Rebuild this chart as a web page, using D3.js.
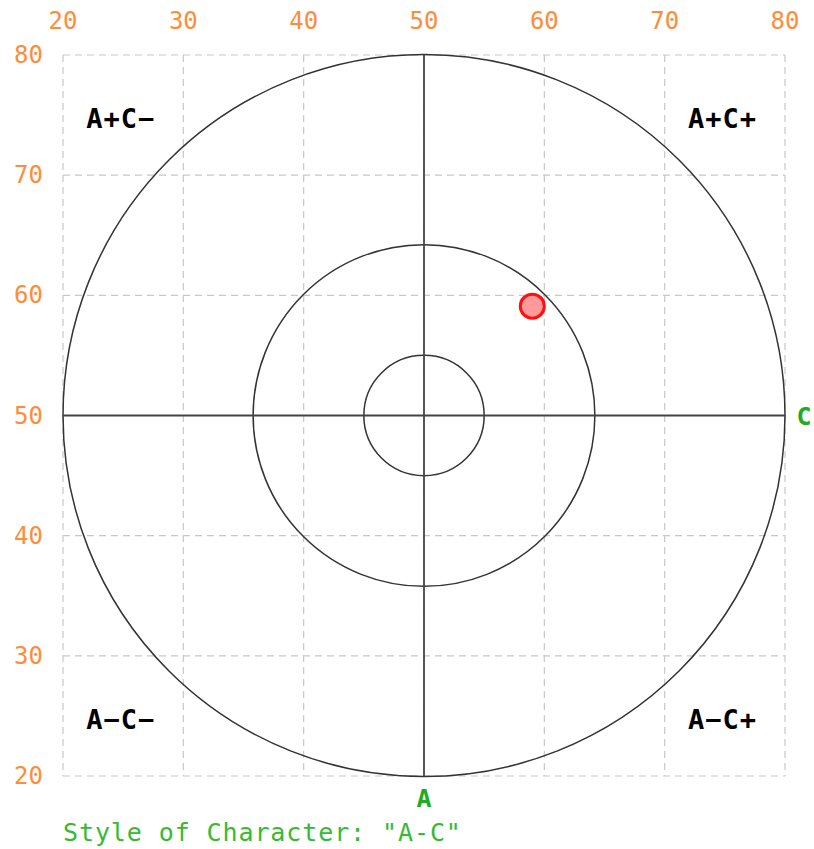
<!DOCTYPE html>
<html>
<head>
<meta charset="utf-8">
<script src="https://cdn.jsdelivr.net/npm/d3@7"></script>
<style>
  html, body { margin: 0; padding: 0; background: #fff; }
  svg { display: block; }
  .tick-lab { font-family: "DejaVu Sans Mono", monospace; font-size: 24px; fill: #ff8c3a; }
  .quad { font-family: "DejaVu Sans Mono", monospace; font-size: 27px; font-weight: bold; fill: #000; letter-spacing: 1px; }
  .axis-name { font-family: "DejaVu Sans Mono", monospace; font-size: 25px; font-weight: bold; fill: #22aa22; }
  .caption { font-family: "DejaVu Sans Mono", monospace; font-size: 25px; fill: #33bb33; letter-spacing: 0.9px; }
</style>
</head>
<body>
<div id="chart"></div>
<script>
// Character-style target chart: C on x, A on y, both 20..80, centred on 50.
const xTicks = [20, 30, 40, 50, 60, 70, 80];
const yTicks = [20, 30, 40, 50, 60, 70, 80];
const ringRadii = [5, 14.2, 30];
const points = [{ c: 59, a: 59.1 }];
const quadrants = [
  { label: 'A+C\u2212', c: 24.8, a: 73.9 },
  { label: 'A+C+', c: 74.8, a: 73.9 },
  { label: 'A\u2212C\u2212', c: 24.8, a: 23.9 },
  { label: 'A\u2212C+', c: 74.8, a: 23.9 },
];
const caption = 'Style of Character: "A-C"';

const width = 814, height = 849;
const m = { top: 55, right: 29, bottom: 73, left: 63 };

const svg = d3.select('#chart').append('svg')
  .attr('width', width).attr('height', height);

const x = d3.scaleLinear().domain([20, 80]).range([m.left, width - m.right]);
const y = d3.scaleLinear().domain([20, 80]).range([height - m.bottom, m.top]);
const px = x(1) - x(0);

// dashed grid
const grid = svg.append('g').attr('stroke', '#c8c8c8').attr('stroke-width', 1.2)
  .attr('stroke-dasharray', '7 5');
grid.selectAll('line.v').data(xTicks).join('line')
  .attr('x1', d => x(d)).attr('x2', d => x(d))
  .attr('y1', y(80)).attr('y2', y(20));
grid.selectAll('line.h').data(yTicks).join('line')
  .attr('y1', d => y(d)).attr('y2', d => y(d))
  .attr('x1', x(20)).attr('x2', x(80));

// tick labels (top and left)
svg.append('g').selectAll('text').data(xTicks).join('text')
  .attr('class', 'tick-lab')
  .attr('x', d => x(d)).attr('y', 29)
  .attr('text-anchor', 'middle')
  .text(d => d);
svg.append('g').selectAll('text').data(yTicks).join('text')
  .attr('class', 'tick-lab')
  .attr('x', 43).attr('y', d => y(d) + 8)
  .attr('text-anchor', 'end')
  .text(d => d);

// rings
svg.append('g').selectAll('circle').data(ringRadii).join('circle')
  .attr('cx', x(50)).attr('cy', y(50))
  .attr('r', d => d * px)
  .attr('fill', 'none').attr('stroke', '#333').attr('stroke-width', 1.5);

// cross axes
svg.append('line')
  .attr('x1', x(20)).attr('x2', x(80)).attr('y1', y(50)).attr('y2', y(50))
  .attr('stroke', '#444').attr('stroke-width', 1.8);
svg.append('line')
  .attr('x1', x(50)).attr('x2', x(50)).attr('y1', y(80)).attr('y2', y(20))
  .attr('stroke', '#444').attr('stroke-width', 1.8);

// quadrant labels
svg.append('g').selectAll('text').data(quadrants).join('text')
  .attr('class', 'quad')
  .attr('x', d => x(d.c)).attr('y', d => y(d.a))
  .attr('text-anchor', 'middle')
  .text(d => d.label);

// axis names
svg.append('text').attr('class', 'axis-name')
  .attr('x', x(80) + 19).attr('y', y(50) + 9)
  .attr('text-anchor', 'middle').text('C');
svg.append('text').attr('class', 'axis-name')
  .attr('x', x(50)).attr('y', y(20) + 31)
  .attr('text-anchor', 'middle').text('A');

// the plotted point
svg.append('g').selectAll('circle').data(points).join('circle')
  .attr('cx', d => x(d.c)).attr('cy', d => y(d.a))
  .attr('r', 12)
  .attr('fill', '#ff9a9a').attr('stroke', '#ff1010').attr('stroke-width', 3);

svg.append('text').attr('class', 'caption')
  .attr('x', m.left).attr('y', 841)
  .text(caption);
</script>
</body>
</html>
